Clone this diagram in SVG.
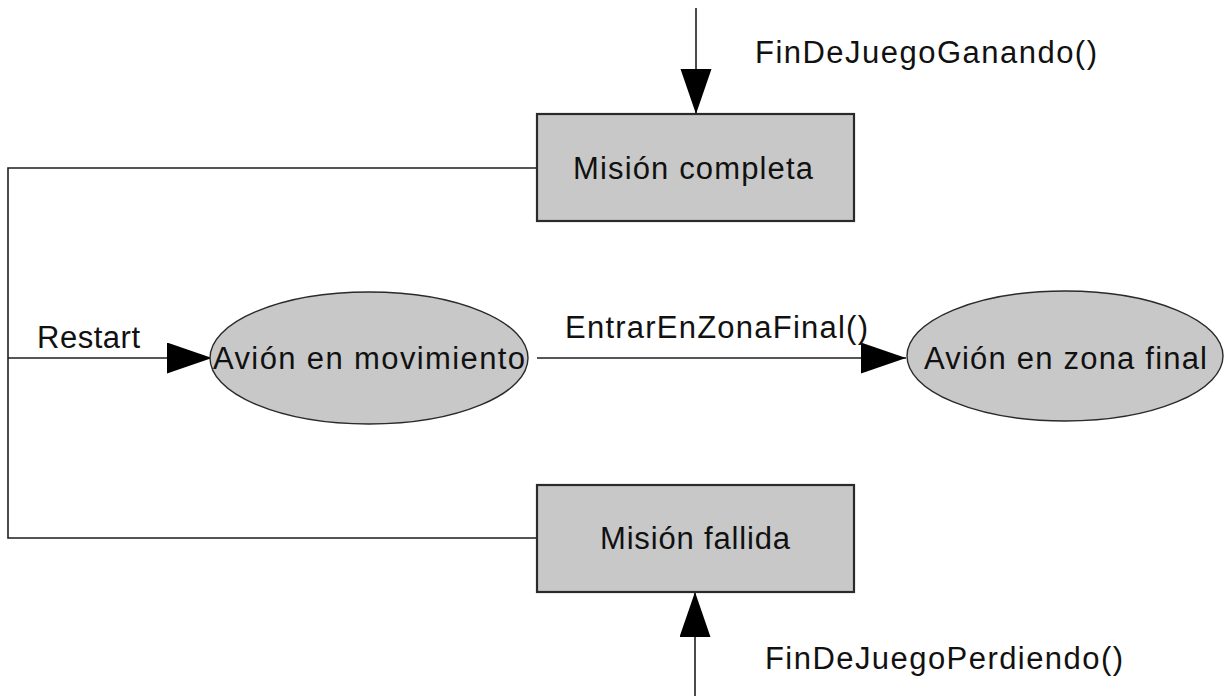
<svg xmlns="http://www.w3.org/2000/svg" width="1226" height="696" viewBox="0 0 1226 696">
  <style>
    .box { fill: #c8c8c8; stroke: #2a2a2a; stroke-width: 2.2; }
    .ell { fill: #c8c8c8; stroke: #2a2a2a; stroke-width: 1.4; }
    .conn { fill: none; stroke: #1e1e1e; stroke-width: 1.6; }
    .lbl { font-family: "Liberation Sans", Arial, Helvetica, sans-serif; font-size: 31px; fill: #111; }
  </style>
  <defs>
    <marker id="arrow" markerUnits="userSpaceOnUse" markerWidth="46" markerHeight="32" refX="45" refY="15.5" orient="auto" viewBox="0 0 46 32">
      <path d="M0,0 L45,15.5 L0,31 Z" fill="#000"/>
    </marker>
  </defs>
  <rect width="1226" height="696" fill="#fff"/>

  <g id="connectors">
    <line class="conn" x1="696" y1="8" x2="696" y2="114" marker-end="url(#arrow)"/>
    <polyline class="conn" points="537,168 8,168 8,538 537,538"/>
    <line class="conn" x1="8" y1="358" x2="212" y2="358" marker-end="url(#arrow)"/>
    <line class="conn" x1="537" y1="358" x2="906" y2="358" marker-end="url(#arrow)"/>
    <line class="conn" x1="695" y1="696" x2="695" y2="592" marker-end="url(#arrow)"/>
    <text class="lbl" x="755" y="63" textLength="342" lengthAdjust="spacing">FinDeJuegoGanando()</text>
    <text class="lbl" x="37" y="348" textLength="103" lengthAdjust="spacing">Restart</text>
    <text class="lbl" x="565" y="338" textLength="303" lengthAdjust="spacing">EntrarEnZonaFinal()</text>
    <text class="lbl" x="765" y="669" textLength="358" lengthAdjust="spacing">FinDeJuegoPerdiendo()</text>
  </g>

  <g id="mision-completa">
    <rect class="box" x="537" y="114" width="317" height="107"/>
    <text class="lbl" x="573" y="179" textLength="240" lengthAdjust="spacing">Misión completa</text>
  </g>

  <g id="avion-movimiento">
    <ellipse class="ell" cx="369" cy="358" rx="159" ry="66"/>
    <text class="lbl" x="213" y="369" textLength="312" lengthAdjust="spacing">Avión en movimiento</text>
  </g>

  <g id="avion-zona-final">
    <ellipse class="ell" cx="1065" cy="356" rx="158" ry="65"/>
    <text class="lbl" x="924" y="369" textLength="283" lengthAdjust="spacing">Avión en zona final</text>
  </g>

  <g id="mision-fallida">
    <rect class="box" x="537" y="485" width="317" height="107"/>
    <text class="lbl" x="600" y="549" textLength="190" lengthAdjust="spacing">Misión fallida</text>
  </g>
</svg>
